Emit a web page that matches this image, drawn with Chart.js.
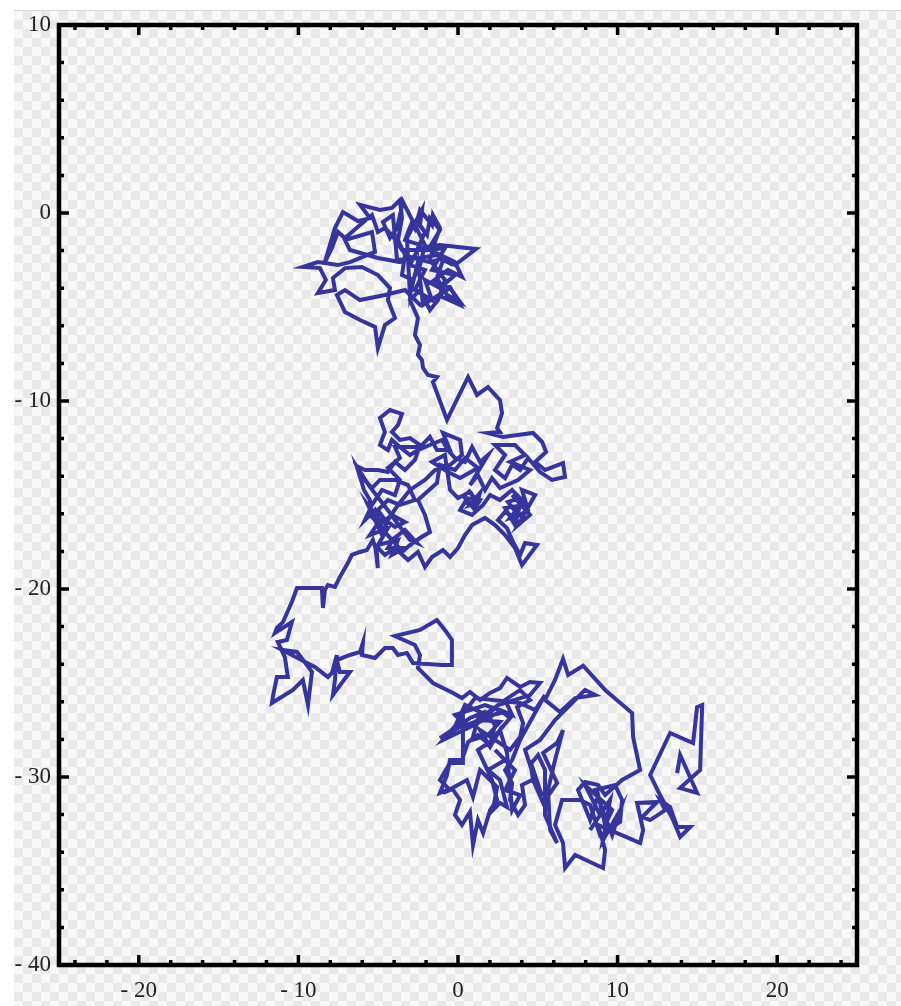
<!DOCTYPE html>
<html>
<head>
<meta charset="utf-8">
<script src="https://cdn.jsdelivr.net/npm/chart.js@4.4.1/dist/chart.umd.min.js"></script>
<style>
  html, body { margin: 0; padding: 0; background: #fff; overflow: hidden; }
  #bg {
    position: absolute; left: 14px; top: 10px; right: 0; bottom: 0;
    border-top: 1px solid #d8d8d8;
    background: repeating-conic-gradient(#e9e9e9 0 25%, #f8f8f8 0 50%) 0 0 / 18px 18px;
  }
  #wrap { position: absolute; left: 0; top: 0; width: 901px; height: 1006px; }
</style>
</head>
<body>
<div id="bg"></div>
<div id="wrap"><canvas id="myChart" width="901" height="1006"></canvas></div>
<script>
// axis settings
var xTicks = [-20, -10, 0, 10, 20];
var yTicks = [10, 0, -10, -20, -30, -40];

// random walk
var topCluster = [
  [-2.70,-0.37],[-2.07,-1.01],[-2.51,-1.86],[-1.13,-1.70],[1.13,-1.91],[-0.19,-2.77],[-0.82,-2.39],[-1.76,-2.61],
  [-3.01,-2.34],[-3.64,-2.61],[-5.02,-2.39],[-6.77,-1.97],[-7.08,-1.44],[-5.39,-1.01],[-5.20,-2.07],[-6.77,-2.61],
  [-7.52,-2.77],[-8.78,-2.61],[-9.72,-2.87],[-8.65,-2.93],[-8.28,-3.56],[-8.78,-4.26],[-7.71,-4.10],[-7.84,-3.46],
  [-7.08,-2.93],[-6.02,-2.87],[-5.02,-3.30],[-4.26,-3.99],[-4.39,-4.63],[-3.95,-5.59],[-4.58,-5.96],[-5.02,-7.18],
  [-5.20,-6.06],[-6.14,-5.69],[-7.08,-5.27],[-7.59,-4.36],[-7.08,-4.10],[-6.14,-4.63],[-4.58,-4.36],[-3.32,-4.10],
  [-2.38,-4.89],[-1.13,-4.41],[0.13,-4.89],[-0.50,-3.94],[-1.63,-3.67],[-0.63,-3.03],[0.25,-3.40],[-0.19,-2.61],
  [-1.76,-1.97],[-3.51,-1.97],[-4.14,-1.17],[-4.58,-0.80],[-5.02,-1.01],[-5.39,-0.11],[-6.14,-0.64],[-7.08,-1.33],
  [-7.52,-1.01],[-7.90,-1.86],[-8.34,-2.61],[-7.71,-0.80],[-7.21,0.05],[-6.27,-0.43],[-5.52,-0.27],[-6.14,0.43],
  [-4.89,0.16],[-4.14,0.27],[-3.64,0.69],[-3.51,-0.27],[-3.76,-1.44],[-3.32,-2.23],[-3.51,-3.30],[-2.82,-3.56],
  [-2.38,-2.77],[-2.07,-1.70],
  [-3.45,0.59],[-3.82,-0.80],[-4.26,-1.33],[-4.70,-0.48],[-4.08,-0.11],[-3.82,-2.50],[-2.38,-2.39],[-1.32,-2.23],
  [-0.31,-2.77],[-0.94,-2.50],[-1.32,-3.46],[-0.69,-4.36],[0.13,-4.73],[-0.50,-3.99],[-2.19,-4.89],[-2.51,-2.61],
  [-3.01,-4.36],[-3.20,-1.33],[-2.26,0.16],[-2.38,-0.64],[-1.94,-1.17],[-1.76,-0.27],
  [-1.13,-0.90],[-1.88,-1.97],[-0.82,-1.86],[-1.63,-3.03],[-0.19,-3.30],[-1.13,-3.99],[-2.07,-3.56],[-1.63,-4.63],
  [-2.70,-4.10],[-2.07,-3.03],[-3.01,-2.77],[-2.38,-1.70],[-3.32,-1.44],[-2.88,-0.48],
  [-2.70,-0.80],[-2.38,0.16],[-1.63,-0.64],[-1.57,-0.11],[-1.13,-0.80],[-1.44,-1.54],
  [-1.76,-2.50],[-0.82,-3.56],[-1.25,-4.63],[-1.76,-5.16],[-2.38,-4.10],[-3.01,-4.63],[-2.51,-5.59],[-2.70,-6.49]
];
var bridge = [
  [-2.38,-7.02],[-2.51,-7.55],[-2.26,-7.82],[-2.19,-8.24],[-1.88,-8.62],[-1.32,-8.72],[-1.57,-8.99],[-0.69,-11.01],
  [0.63,-8.72],[1.19,-9.68],[1.88,-9.26],[2.63,-9.95],[2.76,-10.64],[2.45,-11.44],[2.63,-11.65]
];
var middleCluster = [
  [1.88,-11.70],[2.82,-11.91],[4.70,-11.70],[5.27,-12.18],[5.52,-12.71],[4.83,-13.24],[5.45,-13.67],[6.58,-13.30],
  [6.71,-14.04],[5.89,-14.20],[5.14,-13.78],[4.39,-13.03],[3.89,-13.67],[3.39,-13.40],[2.95,-14.10],[2.32,-13.67],
  [2.95,-12.87],[2.32,-12.34],[3.57,-12.34],[4.20,-12.87],[3.26,-13.24],[4.51,-13.67],[3.76,-14.20],[2.63,-14.63],
  [2.13,-14.10],[1.69,-14.73],[1.25,-13.94],[0.75,-14.47],
  [1.88,-12.87],[1.38,-13.24],[0.88,-12.45],[0.44,-13.24],[-0.19,-13.03],[-0.63,-12.61],[-1.00,-12.07],[-1.76,-12.34],
  [-2.51,-12.61],[-3.01,-12.87],[-3.64,-12.45],[-4.14,-12.07],[-4.39,-12.61],[-4.89,-12.34],[-4.58,-11.65],[-4.89,-10.90],
  [-4.26,-10.48],[-3.51,-10.69],[-3.76,-11.28],[-4.14,-11.65],[-3.64,-12.07],[-3.01,-11.97],[-2.38,-12.34],[-2.70,-13.14],
  [-3.32,-13.67],[-3.95,-13.24],[-4.39,-13.78],[-5.02,-13.67],[-5.83,-13.67],[-6.33,-13.46],[-5.96,-14.10],[-5.39,-14.63],
  [-4.89,-14.20],[-3.95,-14.20],[-3.13,-14.47],[-2.70,-15.27],[-3.64,-15.53],[-4.39,-15.27],[-5.02,-15.80],[-4.58,-16.33],
  [-3.95,-16.70],[-3.32,-16.44],[-4.14,-16.06],[-4.89,-16.60],[-5.39,-16.17],[-5.52,-15.27],[-5.89,-14.73],
  [-6.33,-13.51],[-5.52,-14.57],[-4.89,-15.27],[-4.26,-15.96],[-3.82,-16.49],[-3.01,-17.39],[-2.57,-17.55],[-3.32,-16.86],
  [-4.14,-17.39],[-4.70,-16.86],[-5.20,-15.80],[-5.83,-16.33],[-5.39,-15.53],[-4.76,-14.73],[-3.95,-15.00],[-3.64,-14.20],
  [-4.39,-13.56],[-3.64,-13.03],[-3.95,-12.45],[-2.38,-12.45],[-1.76,-11.91],[-1.32,-12.61],[-0.50,-12.61],[-0.94,-11.70],
  [0.13,-12.07],[0.25,-12.87],[-0.50,-13.40],[-1.44,-13.67],[-2.07,-14.20],[-3.01,-14.73],[-3.76,-15.53],[-4.39,-16.33],
  [-4.76,-17.13],
  [-5.64,-15.53],[-4.89,-16.33],[-5.52,-17.13],[-4.39,-16.76],[-5.02,-17.66],[-3.76,-17.39],[-4.14,-18.19],[-3.32,-17.82],
  [-4.39,-17.82],[-4.08,-17.39],[-3.51,-18.03],[-3.01,-17.66],[-2.38,-17.29],[-1.76,-16.97],[-2.07,-16.06],[-2.51,-15.27],
  [-1.32,-14.36],
  [-1.13,-13.40],[-0.19,-13.67],[0.44,-13.03],[1.25,-13.56],[0.13,-14.10],[-0.63,-13.78],[-1.63,-13.24],[-0.82,-12.87],
  [-0.50,-14.73],[0.00,-15.16],[0.75,-14.84],
  [0.63,-14.73],[1.25,-15.37],[0.75,-15.53],[1.38,-14.89],[1.07,-15.80],[0.44,-15.16],
  [1.38,-15.27],[1.07,-15.69],[0.44,-15.37],[0.13,-15.80],
  [0.88,-16.06],[1.57,-15.53],[2.01,-15.00],[2.63,-15.27],[3.39,-14.73],[3.89,-15.16],
  [3.13,-15.37],[3.76,-16.06],[3.26,-16.22],[3.89,-15.53],[3.57,-16.60],[2.95,-15.69],
  [4.20,-15.53],[3.39,-15.00],[4.51,-16.06],[3.76,-16.60],[4.83,-15.00],[4.01,-14.73],
  [4.39,-15.80],[3.57,-16.22],
  [2.95,-15.90],[2.51,-16.33],[3.07,-16.76],[3.45,-17.50],[3.89,-18.19],[4.20,-17.55],[4.95,-17.66],[4.01,-18.72],
  [3.57,-17.82],[2.95,-17.13],[2.32,-16.60],[1.69,-16.22],[0.88,-16.60],[0.44,-17.13],[0.00,-17.82],[-0.50,-18.30],
  [-0.94,-17.93],[-1.63,-18.30],[-2.07,-18.83],[-2.51,-18.03],[-3.13,-18.46],[-3.95,-17.82],[-4.58,-18.19],[-5.20,-17.66],
  [-5.02,-18.88],[-5.08,-18.09],[-5.33,-17.39],[-5.71,-17.93],[-6.14,-18.03],[-6.65,-18.19],[-6.90,-18.62]
];
var leftPart = [
  [-7.40,-19.36],[-7.71,-19.89],[-8.15,-19.79],[-8.34,-20.05],[-8.46,-21.01],[-8.53,-19.95],[-10.09,-19.95],[-10.41,-20.69],
  [-10.97,-21.76],[-11.35,-22.07],[-11.47,-22.34],[-10.41,-21.76],[-10.72,-22.71],[-11.29,-22.82],[-10.85,-23.62],[-10.66,-24.68],
  [-11.35,-24.68],[-11.60,-25.74],[-11.66,-26.06],[-10.34,-25.37],[-9.72,-24.84],[-9.40,-26.17],[-9.15,-24.41],[-10.09,-23.35],
  [-11.03,-23.24],[-8.97,-24.15],[-8.15,-24.68],[-7.90,-24.47],[-7.59,-23.51],[-7.71,-24.84],[-7.84,-25.64],[-6.77,-24.41],
  [-7.40,-24.41],[-7.59,-23.78],[-6.77,-23.51],[-6.14,-23.35],[-5.96,-22.87],[-6.02,-23.51],[-5.20,-23.67],[-4.58,-23.14],
  [-4.08,-23.14],[-3.76,-23.51],[-3.20,-23.40],[-2.82,-23.94],[-1.00,-24.04],[-0.38,-24.04],[-0.38,-22.71],[-0.82,-22.18],
  [-1.32,-21.65],[-2.38,-22.18],[-3.95,-22.50],[-2.70,-22.98],[-2.38,-23.51],[-2.51,-24.20],[-1.57,-25.00],[-0.31,-25.53],
  [0.25,-25.80]
];
var bottomCluster = [
  [0.75,-25.48],[1.38,-25.90],[2.01,-25.53],[2.63,-25.27],[3.07,-24.73],[3.89,-25.21],[4.51,-24.95],[5.14,-25.00],
  [4.51,-25.64],[3.57,-25.90],[2.51,-26.17],[1.07,-27.07],[0.00,-27.39],[-1.13,-27.93],[0.75,-26.86],[1.69,-26.54],
  [2.32,-27.23],[2.01,-28.30],[1.25,-27.77],[0.63,-28.14],[0.25,-29.10],[-0.50,-29.10],[-0.69,-29.89],[-1.13,-30.85],
  [-0.38,-30.59],[0.13,-31.22],[-0.19,-32.02],[0.25,-32.55],[0.75,-31.86],[0.94,-33.62],[1.25,-32.29],[1.57,-32.98],
  [2.01,-31.76],[2.45,-31.22],[2.13,-30.16],[1.69,-29.36],[1.25,-28.56],[2.01,-28.14],[2.63,-27.50],[3.26,-26.86],
  [2.63,-26.44],[1.69,-26.17],[0.75,-26.44],[-0.19,-26.70],[0.63,-27.39],[1.25,-26.97],[2.13,-26.70],[2.95,-26.54],
  [2.45,-26.60],[0.75,-27.34],[-0.94,-28.03],[0.31,-26.81],[0.31,-29.26],[-0.50,-29.26],[-1.13,-30.16],[-0.50,-30.69],
  [-0.94,-30.85],[0.56,-30.16],[0.94,-31.06],[1.38,-29.63],[2.45,-30.53],[2.19,-31.76],[2.63,-31.38],[3.07,-31.60],
  [2.63,-30.16],[1.88,-29.63],[2.95,-29.10],[2.32,-28.56],[3.57,-29.63],[2.95,-30.69],[3.89,-30.96],[3.39,-31.76],
  [3.07,-28.72],[2.63,-27.50],[2.01,-28.40],[1.38,-27.50],[3.26,-28.56],[3.89,-27.87],[4.08,-27.13],[3.70,-26.28],
  [4.51,-25.90],
  [3.89,-25.37],[2.95,-25.90],[3.39,-26.70],[2.32,-26.33],[1.50,-26.97],[2.63,-27.07],[1.88,-27.77],[0.88,-28.03],
  [1.38,-26.54],[0.44,-26.17],[0.00,-26.97],[1.07,-25.80],
  [3.89,-26.06],[4.83,-26.44],[5.45,-25.64],[4.51,-27.07],[3.89,-28.03],[3.39,-29.10],[2.95,-29.63],[3.39,-30.32],
  [3.26,-31.22],[3.76,-32.02],[4.20,-31.49],[4.01,-30.43],[4.64,-30.16],[5.14,-30.69],
  [4.51,-29.10],[4.70,-30.16],[5.33,-31.38],[6.21,-30.32],[5.33,-28.72],[6.21,-28.19],[6.58,-27.50],[6.08,-29.10],
  [5.64,-30.69],[5.77,-32.82],[6.21,-33.51],[5.45,-32.02],
  [5.45,-29.63],[5.02,-28.83],
  [4.51,-29.36],[4.20,-28.56],[5.14,-28.03],[6.08,-26.97],[7.02,-26.17],[7.96,-25.37],[8.59,-25.64],[7.34,-25.80],
  [6.39,-26.54],[5.45,-25.90],[6.08,-24.84],[6.58,-23.72],[6.90,-24.57],[7.84,-24.08],[9.22,-25.37],[10.91,-26.60],
  [10.97,-27.87],[11.41,-29.63],[10.28,-30.16]
];
var rightPart = [
  [9.22,-30.96],[8.78,-30.43],[7.96,-30.27],[7.52,-30.69],[8.28,-32.29],[8.78,-30.96],[9.22,-32.55],[9.66,-31.76],
  [7.96,-30.43],[8.90,-32.02],[8.28,-32.82],[9.53,-31.22],[9.09,-33.35],[10.16,-31.76],[9.66,-33.09],[8.59,-30.69],
  [9.84,-30.43],[10.28,-31.22],[10.16,-32.39],[8.90,-33.09],[8.28,-31.49],[7.65,-31.22],[6.52,-31.22],[6.08,-32.55],
  [6.58,-33.51],[6.71,-34.84],[7.34,-34.15],[8.28,-34.52],[9.09,-34.84],[9.22,-33.88],[8.78,-32.55],[10.66,-33.24],
  [11.41,-33.51],[11.60,-32.82],[11.22,-31.38],[12.48,-31.33],[11.54,-32.13],[12.04,-32.29],[12.98,-31.76],[12.66,-31.22],
  [13.29,-31.60],[13.73,-32.66],[14.55,-32.66],[13.92,-33.19],[13.42,-32.18],[12.66,-30.96],[12.04,-29.89],[13.29,-27.66],
  [14.73,-28.19],[14.98,-26.28],[15.30,-26.17],[15.17,-29.63],[13.92,-30.59],[14.98,-30.85],[13.92,-28.83],[13.73,-29.79]
];

var walk = topCluster.concat(bridge, middleCluster, leftPart, bottomCluster, rightPart);

function fmt(v) {
  return v < 0 ? '- ' + Math.abs(v) : String(v);
}

// frame with inward ticks on all four sides
const frame = {
  id: 'frame',
  afterDraw(chart) {
    const ctx = chart.ctx;
    const a = chart.chartArea;
    const sx = chart.scales.x, sy = chart.scales.y;
    ctx.save();
    ctx.strokeStyle = '#000';
    ctx.lineCap = 'butt';
    ctx.beginPath();
    for (let v = -24; v <= 24; v += 2) {
      const px = sx.getPixelForValue(v);
      const len = v % 10 === 0 ? 10 : 5;
      ctx.moveTo(px, a.bottom); ctx.lineTo(px, a.bottom - len);
      ctx.moveTo(px, a.top); ctx.lineTo(px, a.top + len);
    }
    for (let v = -38; v <= 8; v += 2) {
      const py = sy.getPixelForValue(v);
      const len = v % 10 === 0 ? 10 : 5;
      ctx.moveTo(a.left, py); ctx.lineTo(a.left + len, py);
      ctx.moveTo(a.right, py); ctx.lineTo(a.right - len, py);
    }
    ctx.lineWidth = 3.5;
    ctx.stroke();
    ctx.lineWidth = 4.5;
    ctx.strokeRect(a.left, a.top, a.right - a.left, a.bottom - a.top);
    ctx.restore();
  }
};

const config = {
  type: 'scatter',
  data: {
    datasets: [{
      data: walk.map(p => ({x: p[0], y: p[1]})),
      showLine: true,
      borderColor: '#35359b',
      borderWidth: 4,
      borderJoinStyle: 'miter',
      pointRadius: 0,
      tension: 0
    }]
  },
  options: {
    responsive: false,
    animation: false,
    devicePixelRatio: 1,
    layout: { padding: { top: 25, right: 44, left: 0, bottom: 0 } },
    plugins: { legend: { display: false }, tooltip: { enabled: false } },
    scales: {
      x: {
        type: 'linear', min: -25, max: 25,
        afterBuildTicks: s => { s.ticks = xTicks.map(v => ({value: v})); },
        afterFit: s => { s.height = 41; },
        grid: { display: false, drawTicks: false },
        border: { display: false },
        ticks: { callback: fmt, padding: 12, maxRotation: 0, autoSkip: false,
                 color: '#222', font: { family: 'Liberation Serif', size: 23 } }
      },
      y: {
        type: 'linear', min: -40, max: 10,
        afterBuildTicks: s => { s.ticks = yTicks.map(v => ({value: v})); },
        afterFit: s => { s.width = 59; },
        grid: { display: false, drawTicks: false },
        border: { display: false },
        ticks: { callback: fmt, padding: 8, autoSkip: false,
                 color: '#222', font: { family: 'Liberation Serif', size: 23 } }
      }
    }
  },
  plugins: [frame]
};

const ctx = document.getElementById('myChart').getContext('2d');
const myChart = new Chart(ctx, config);
</script>
</body>
</html>
